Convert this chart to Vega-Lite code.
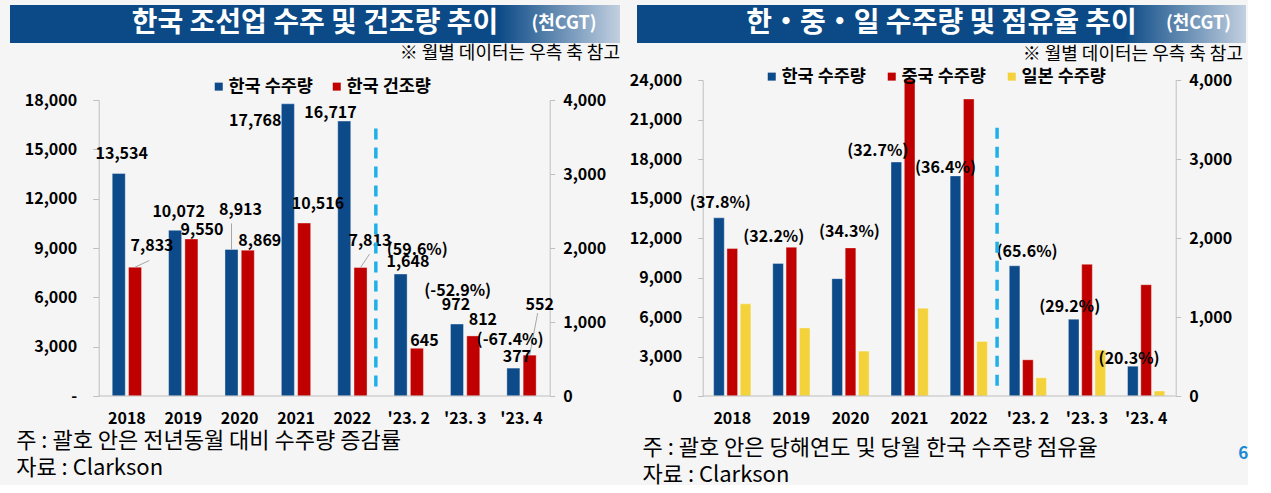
{
  "$schema": "https://vega.github.io/schema/vega-lite/v6.json",
  "description": "한국 조선업 수주 및 건조량 추이 / 한·중·일 수주량 및 점유율 추이 (천CGT)",
  "background": "#f5f5f5",
  "padding": {"left": 10, "top": 5, "right": 0, "bottom": 0},
  "datasets": {
    "korea": [
      {"period": "2018", "kind": "annual", "series": "한국 수주량", "value": 13534},
      {"period": "2018", "kind": "annual", "series": "한국 건조량", "value": 7833},
      {"period": "2019", "kind": "annual", "series": "한국 수주량", "value": 10072},
      {"period": "2019", "kind": "annual", "series": "한국 건조량", "value": 9550},
      {"period": "2020", "kind": "annual", "series": "한국 수주량", "value": 8913},
      {"period": "2020", "kind": "annual", "series": "한국 건조량", "value": 8869},
      {"period": "2021", "kind": "annual", "series": "한국 수주량", "value": 17768},
      {"period": "2021", "kind": "annual", "series": "한국 건조량", "value": 10516},
      {"period": "2022", "kind": "annual", "series": "한국 수주량", "value": 16717},
      {"period": "2022", "kind": "annual", "series": "한국 건조량", "value": 7813},
      {"period": "'23. 2", "kind": "monthly", "series": "한국 수주량", "value": 1648, "chg": "(59.6%)"},
      {"period": "'23. 2", "kind": "monthly", "series": "한국 건조량", "value": 645},
      {"period": "'23. 3", "kind": "monthly", "series": "한국 수주량", "value": 972, "chg": "(-52.9%)"},
      {"period": "'23. 3", "kind": "monthly", "series": "한국 건조량", "value": 812},
      {"period": "'23. 4", "kind": "monthly", "series": "한국 수주량", "value": 377, "chg": "(-67.4%)"},
      {"period": "'23. 4", "kind": "monthly", "series": "한국 건조량", "value": 552}
    ],
    "share": [
      {"period": "2018", "kind": "annual", "series": "한국 수주량", "value": 13534, "share": "(37.8%)"},
      {"period": "2018", "kind": "annual", "series": "중국 수주량", "value": 11200},
      {"period": "2018", "kind": "annual", "series": "일본 수주량", "value": 7000},
      {"period": "2019", "kind": "annual", "series": "한국 수주량", "value": 10072, "share": "(32.2%)"},
      {"period": "2019", "kind": "annual", "series": "중국 수주량", "value": 11300},
      {"period": "2019", "kind": "annual", "series": "일본 수주량", "value": 5170},
      {"period": "2020", "kind": "annual", "series": "한국 수주량", "value": 8913, "share": "(34.3%)"},
      {"period": "2020", "kind": "annual", "series": "중국 수주량", "value": 11250},
      {"period": "2020", "kind": "annual", "series": "일본 수주량", "value": 3410},
      {"period": "2021", "kind": "annual", "series": "한국 수주량", "value": 17768, "share": "(32.7%)"},
      {"period": "2021", "kind": "annual", "series": "중국 수주량", "value": 24000},
      {"period": "2021", "kind": "annual", "series": "일본 수주량", "value": 6670},
      {"period": "2022", "kind": "annual", "series": "한국 수주량", "value": 16717, "share": "(36.4%)"},
      {"period": "2022", "kind": "annual", "series": "중국 수주량", "value": 22560},
      {"period": "2022", "kind": "annual", "series": "일본 수주량", "value": 4140},
      {"period": "'23. 2", "kind": "monthly", "series": "한국 수주량", "value": 1648, "share": "(65.6%)"},
      {"period": "'23. 2", "kind": "monthly", "series": "중국 수주량", "value": 458},
      {"period": "'23. 2", "kind": "monthly", "series": "일본 수주량", "value": 231},
      {"period": "'23. 3", "kind": "monthly", "series": "한국 수주량", "value": 972, "share": "(29.2%)"},
      {"period": "'23. 3", "kind": "monthly", "series": "중국 수주량", "value": 1667},
      {"period": "'23. 3", "kind": "monthly", "series": "일본 수주량", "value": 581},
      {"period": "'23. 4", "kind": "monthly", "series": "한국 수주량", "value": 377, "share": "(20.3%)"},
      {"period": "'23. 4", "kind": "monthly", "series": "중국 수주량", "value": 1409},
      {"period": "'23. 4", "kind": "monthly", "series": "일본 수주량", "value": 63}
    ]
  },
  "spacing": 9,
  "resolve": {
    "scale": {"x": "independent", "y": "independent", "xOffset": "independent", "color": "independent"},
    "legend": {"color": "independent"}
  },
  "hconcat": [
    {
      "spacing": 2,
      "resolve": {
        "scale": {"x": "independent", "y": "independent", "xOffset": "independent", "color": "independent"},
        "legend": {"color": "independent"}
      },
      "vconcat": [
        {
          "width": 610,
          "height": 38,
          "data": {"values": [{"title": "한국 조선업 수주 및 건조량 추이", "unit": "(천CGT)"}]},
          "layer": [
            {
              "mark": {
                "type": "rect",
                "color": {
                  "gradient": "linear", "x1": 0, "x2": 1, "y1": 0, "y2": 0,
                  "stops": [
                    {"offset": 0, "color": "#0b4a86"},
                    {"offset": 0.8, "color": "#0b4a86"},
                    {"offset": 1, "color": "#c2d0e0"}
                  ]
                }
              },
              "encoding": {}
            },
            {
              "mark": {"type": "text", "fontSize": 28, "fontWeight": "bold", "color": "#ffffff"},
              "encoding": {"text": {"field": "title"}}
            },
            {
              "mark": {"type": "text", "fontSize": 18, "fontWeight": "bold", "color": "#ffffff", "dx": 249},
              "encoding": {"text": {"field": "unit"}}
            }
          ]
        },
        {
          "data": {"name": "korea"},
          "width": 610,
          "height": 296,
          "title": {
            "text": "※ 월별 데이터는 우측 축 참고",
            "anchor": "end",
            "frame": "group",
            "offset": 14.5,
            "fontSize": 18,
            "fontWeight": "normal"
          },
          "encoding": {
            "x": {
              "field": "period",
              "type": "nominal",
              "sort": ["2018", "2019", "2020", "2021", "2022", "'23. 2", "'23. 3", "'23. 4"],
              "scale": {"paddingInner": 0.48, "paddingOuter": 0.24, "range": [88.7, 539.7]},
              "axis": {
                "title": ["주 : 괄호 안은 전년동월 대비 수주량 증감률", "자료 : Clarkson"],
                "titleX": 5.7,
                "titleY": 34.5,
                "titleAlign": "left",
                "titleAnchor": "start",
                "titleBaseline": "top",
                "titleFontSize": 22,
                "titleFontWeight": "normal",
                "titleLineHeight": 27,
                "labelAngle": 0,
                "labelPadding": 14,
                "domain": false,
                "ticks": false,
                "tickSize": 0
              }
            }
          },
          "layer": [
            {
              "transform": [{"filter": "datum.kind == 'annual'"}],
              "encoding": {
                "y": {
                  "field": "value",
                  "type": "quantitative",
                  "scale": {"domain": [0, 18000]},
                  "axis": {
                    "orient": "left",
                    "offset": -88.7,
                    "title": null,
                    "values": [0, 3000, 6000, 9000, 12000, 15000, 18000],
                    "labelExpr": "datum.value == 0 ? '-' : format(datum.value, ',.0f')",
                    "tickSize": 6,
                    "labelPadding": 16
                  }
                },
                "xOffset": {"field": "series", "sort": ["한국 수주량", "한국 건조량"], "scale": {"paddingInner": 0.2}},
                "color": {
                  "field": "series",
                  "type": "nominal",
                  "scale": {"domain": ["한국 수주량", "한국 건조량"], "range": ["#0d4a8a", "#c00000"]},
                  "legend": {
                    "orient": "none",
                    "legendX": 200,
                    "legendY": -22.5,
                    "direction": "horizontal",
                    "columns": 2,
                    "title": null,
                    "symbolType": "square",
                    "symbolSize": 64,
                    "symbolStrokeWidth": 0,
                    "labelFontSize": 17.5,
                    "labelFontWeight": "bold",
                    "labelOffset": 1,
                    "columnPadding": 15
                  }
                }
              },
              "layer": [
                {"mark": {"type": "bar", "stroke": "#ffffff", "strokeWidth": 0.6, "strokeOpacity": 0.6}},
                {
                  "transform": [{"filter": "datum.series == '한국 수주량' && datum.period == '2020'"}],
                  "mark": {"type": "rule", "strokeWidth": 1, "y2Offset": -26},
                  "encoding": {"y2": {"field": "value"}, "color": {"value": "#a6a6a6"}}
                },
                {
                  "transform": [{"filter": "datum.series == '한국 건조량' && (datum.period == '2018' || datum.period == '2022')"}],
                  "mark": {
                    "type": "point",
                    "filled": false,
                    "opacity": 1,
                    "strokeWidth": 1,
                    "shape": {"expr": "datum.period == '2018' ? 'M0,0L1,-0.47' : 'M0,0L0.67,-1'"},
                    "size": {"expr": "datum.period == '2018' ? 818 : 718"}
                  },
                  "encoding": {"color": {"value": "#a6a6a6"}}
                },
                {
                  "transform": [{"filter": "datum.series == '한국 수주량'"}],
                  "mark": {
                    "type": "text",
                    "fontSize": 16,
                    "fontWeight": "bold",
                    "baseline": "middle",
                    "dx": {"expr": "[3, 3.5, 9, -32.6, -13.7][indexof(['2018', '2019', '2020', '2021', '2022'], datum.period)]"},
                    "dy": {"expr": "[-19, -18, -39.6, 17.4, -8][indexof(['2018', '2019', '2020', '2021', '2022'], datum.period)]"}
                  },
                  "encoding": {
                    "text": {"field": "value", "type": "quantitative", "format": ",.0f"},
                    "color": {"value": "#000000"}
                  }
                },
                {
                  "transform": [{"filter": "datum.series == '한국 건조량'"}],
                  "mark": {
                    "type": "text",
                    "fontSize": 16,
                    "fontWeight": "bold",
                    "baseline": "middle",
                    "dx": {"expr": "[17, 10.6, 12, 13.8, 9.4][indexof(['2018', '2019', '2020', '2021', '2022'], datum.period)]"},
                    "dy": {"expr": "[-20.7, -8.5, -9, -19.3, -26.3][indexof(['2018', '2019', '2020', '2021', '2022'], datum.period)]"}
                  },
                  "encoding": {
                    "text": {"field": "value", "type": "quantitative", "format": ",.0f"},
                    "color": {"value": "#000000"}
                  }
                }
              ]
            },
            {
              "transform": [{"filter": "datum.kind == 'monthly'"}],
              "encoding": {
                "y": {
                  "field": "value",
                  "type": "quantitative",
                  "scale": {"domain": [0, 4000]},
                  "axis": {
                    "orient": "right",
                    "offset": -70.3,
                    "title": null,
                    "values": [0, 1000, 2000, 3000, 4000],
                    "format": ",.0f",
                    "tickSize": 5,
                    "labelPadding": 8
                  }
                },
                "xOffset": {"field": "series", "sort": ["한국 수주량", "한국 건조량"], "scale": {"paddingInner": 0.2}},
                "color": {
                  "field": "series",
                  "type": "nominal",
                  "scale": {"domain": ["한국 수주량", "한국 건조량"], "range": ["#0d4a8a", "#c00000"]}
                }
              },
              "layer": [
                {"mark": {"type": "bar", "stroke": "#ffffff", "strokeWidth": 0.6, "strokeOpacity": 0.6}},
                {
                  "transform": [{"filter": "datum.series == '한국 건조량' && datum.period == \"'23. 4\""}],
                  "mark": {
                    "type": "point",
                    "filled": false,
                    "opacity": 1,
                    "strokeWidth": 1,
                    "shape": "M0,0L0.19,-1",
                    "size": 7056
                  },
                  "encoding": {"color": {"value": "#a6a6a6"}}
                },
                {
                  "transform": [{"filter": "datum.series == '한국 수주량'"}],
                  "mark": {
                    "type": "text",
                    "fontSize": 16,
                    "fontWeight": "bold",
                    "baseline": "middle",
                    "dx": {"expr": "datum.period == \"'23. 2\" ? 7.3 : datum.period == \"'23. 3\" ? -1 : 3.5"},
                    "dy": {"expr": "datum.period == \"'23. 2\" ? -11.8 : datum.period == \"'23. 3\" ? -18.6 : -11.6"}
                  },
                  "encoding": {
                    "text": {"field": "value", "type": "quantitative", "format": ",.0f"},
                    "color": {"value": "#000000"}
                  }
                },
                {
                  "transform": [{"filter": "datum.series == '한국 수주량'"}],
                  "mark": {
                    "type": "text",
                    "fontSize": 16,
                    "fontWeight": "bold",
                    "baseline": "middle",
                    "dx": {"expr": "datum.period == \"'23. 2\" ? 16.7 : datum.period == \"'23. 3\" ? 0.7 : -3.3"},
                    "dy": {"expr": "datum.period == \"'23. 2\" ? -24.2 : datum.period == \"'23. 3\" ? -33 : -28.3"}
                  },
                  "encoding": {
                    "text": {"field": "chg", "type": "nominal"},
                    "color": {"value": "#000000"}
                  }
                },
                {
                  "transform": [{"filter": "datum.series == '한국 건조량'"}],
                  "mark": {
                    "type": "text",
                    "fontSize": 16,
                    "fontWeight": "bold",
                    "baseline": "middle",
                    "dx": {"expr": "datum.period == \"'23. 2\" ? 7.5 : datum.period == \"'23. 3\" ? 9.6 : 10"},
                    "dy": {"expr": "datum.period == \"'23. 2\" ? -6.8 : datum.period == \"'23. 3\" ? -16.4 : -49.7"}
                  },
                  "encoding": {
                    "text": {"field": "value", "type": "quantitative", "format": ",.0f"},
                    "color": {"value": "#000000"}
                  }
                }
              ]
            },
            {
              "transform": [{"aggregate": [{"op": "count", "as": "n"}]}],
              "mark": {"type": "rule", "color": "#1fb0ea", "strokeWidth": 3.5, "strokeDash": [11, 8]},
              "encoding": {
                "x": {"datum": "2022", "bandPosition": 1.3},
                "y": {"datum": 16270, "type": "quantitative", "scale": {"domain": [0, 18000]}, "axis": null},
                "y2": {"datum": 280}
              }
            },
            {
              "transform": [{"aggregate": [{"op": "count", "as": "n"}]}],
              "mark": {"type": "rule", "color": "#bfbfbf", "strokeWidth": 1},
              "encoding": {
                "x": {"datum": "2018", "bandPosition": -0.4615},
                "x2": {"datum": "'23. 4", "bandPosition": 1.4615},
                "y": {"datum": 0, "type": "quantitative", "scale": {"domain": [0, 18000]}, "axis": null}
              }
            }
          ],
          "resolve": {"scale": {"y": "independent"}}
        }
      ]
    },
    {
      "spacing": 2,
      "resolve": {
        "scale": {"x": "independent", "y": "independent", "xOffset": "independent", "color": "independent"},
        "legend": {"color": "independent"}
      },
      "vconcat": [
        {
          "width": 609,
          "height": 38,
          "data": {"values": [{"title": "한・중・일 수주량 및 점유율 추이", "unit": "(천CGT)"}]},
          "layer": [
            {
              "mark": {
                "type": "rect",
                "color": {
                  "gradient": "linear", "x1": 0, "x2": 1, "y1": 0, "y2": 0,
                  "stops": [
                    {"offset": 0, "color": "#0b4a86"},
                    {"offset": 0.8, "color": "#0b4a86"},
                    {"offset": 1, "color": "#c2d0e0"}
                  ]
                }
              },
              "encoding": {}
            },
            {
              "mark": {"type": "text", "fontSize": 28, "fontWeight": "bold", "color": "#ffffff"},
              "encoding": {"text": {"field": "title"}}
            },
            {
              "mark": {"type": "text", "fontSize": 18, "fontWeight": "bold", "color": "#ffffff", "dx": 257},
              "encoding": {"text": {"field": "unit"}}
            }
          ]
        },
        {
          "data": {"name": "share"},
          "width": 609,
          "height": 316,
          "title": {
            "text": "※ 월별 데이터는 우측 축 참고",
            "anchor": "end",
            "frame": "group",
            "dx": -3,
            "offset": 4,
            "fontSize": 18,
            "fontWeight": "normal"
          },
          "encoding": {
            "x": {
              "field": "period",
              "type": "nominal",
              "sort": ["2018", "2019", "2020", "2021", "2022", "'23. 2", "'23. 3", "'23. 4"],
              "scale": {"paddingInner": 0.37, "paddingOuter": 0.185, "range": [65.7, 538.7]},
              "axis": {
                "title": ["주 : 괄호 안은 당해연도 및 당월 한국 수주량 점유율", "자료 : Clarkson"],
                "titleX": 5,
                "titleY": 41.5,
                "titleAlign": "left",
                "titleAnchor": "start",
                "titleBaseline": "top",
                "titleFontSize": 22,
                "titleFontWeight": "normal",
                "titleLineHeight": 26.5,
                "labelAngle": 0,
                "labelPadding": 14,
                "domain": false,
                "ticks": false,
                "tickSize": 0
              }
            }
          },
          "layer": [
            {
              "transform": [{"filter": "datum.kind == 'annual'"}],
              "encoding": {
                "y": {
                  "field": "value",
                  "type": "quantitative",
                  "scale": {"domain": [0, 24000]},
                  "axis": {
                    "orient": "left",
                    "offset": -65.7,
                    "title": null,
                    "values": [0, 3000, 6000, 9000, 12000, 15000, 18000, 21000, 24000],
                    "format": ",.0f",
                    "tickSize": 5,
                    "labelPadding": 16
                  }
                },
                "xOffset": {"field": "series", "sort": ["한국 수주량", "중국 수주량", "일본 수주량"], "scale": {"paddingInner": 0.2}},
                "color": {
                  "field": "series",
                  "type": "nominal",
                  "scale": {"domain": ["한국 수주량", "중국 수주량", "일본 수주량"], "range": ["#0d4a8a", "#c00000", "#f3d23b"]},
                  "legend": {
                    "orient": "none",
                    "legendX": 126,
                    "legendY": -12.5,
                    "direction": "horizontal",
                    "columns": 3,
                    "title": null,
                    "symbolType": "square",
                    "symbolSize": 64,
                    "symbolStrokeWidth": 0,
                    "labelFontSize": 17.5,
                    "labelFontWeight": "bold",
                    "labelOffset": 1,
                    "columnPadding": 17
                  }
                }
              },
              "layer": [
                {"mark": {"type": "bar", "stroke": "#ffffff", "strokeWidth": 0.6, "strokeOpacity": 0.6}},
                {
                  "transform": [{"filter": "datum.series == '한국 수주량'"}],
                  "mark": {
                    "type": "text",
                    "fontSize": 16,
                    "fontWeight": "bold",
                    "baseline": "middle",
                    "dx": {"expr": "[1.4, -4.3, 12.2, -18.5, -10][indexof(['2018', '2019', '2020', '2021', '2022'], datum.period)]"},
                    "dy": {"expr": "[-15.3, -26.7, -46.3, -11.2, -8.3][indexof(['2018', '2019', '2020', '2021', '2022'], datum.period)]"}
                  },
                  "encoding": {
                    "text": {"field": "share", "type": "nominal"},
                    "color": {"value": "#000000"}
                  }
                }
              ]
            },
            {
              "transform": [{"filter": "datum.kind == 'monthly'"}],
              "encoding": {
                "y": {
                  "field": "value",
                  "type": "quantitative",
                  "scale": {"domain": [0, 4000]},
                  "axis": {
                    "orient": "right",
                    "offset": -70.3,
                    "title": "6",
                    "titleAngle": 0,
                    "titleX": 67,
                    "titleY": 373,
                    "titleAlign": "center",
                    "titleBaseline": "middle",
                    "titleColor": "#1a8ad4",
                    "titleFontSize": 17,
                    "titleFontWeight": "bold",
                    "values": [0, 1000, 2000, 3000, 4000],
                    "format": ",.0f",
                    "tickSize": 5,
                    "labelPadding": 8
                  }
                },
                "xOffset": {"field": "series", "sort": ["한국 수주량", "중국 수주량", "일본 수주량"], "scale": {"paddingInner": 0.2}},
                "color": {
                  "field": "series",
                  "type": "nominal",
                  "scale": {"domain": ["한국 수주량", "중국 수주량", "일본 수주량"], "range": ["#0d4a8a", "#c00000", "#f3d23b"]}
                }
              },
              "layer": [
                {"mark": {"type": "bar", "stroke": "#ffffff", "strokeWidth": 0.6, "strokeOpacity": 0.6}},
                {
                  "transform": [{"filter": "datum.series == '한국 수주량'"}],
                  "mark": {
                    "type": "text",
                    "fontSize": 16,
                    "fontWeight": "bold",
                    "baseline": "middle",
                    "dx": {"expr": "datum.period == \"'23. 2\" ? 12.5 : datum.period == \"'23. 3\" ? -4 : -3.7"},
                    "dy": {"expr": "datum.period == \"'23. 2\" ? -13.4 : datum.period == \"'23. 3\" ? -12.6 : -7.4"}
                  },
                  "encoding": {
                    "text": {"field": "share", "type": "nominal"},
                    "color": {"value": "#000000"}
                  }
                }
              ]
            },
            {
              "transform": [{"aggregate": [{"op": "count", "as": "n"}]}],
              "mark": {"type": "rule", "color": "#1fb0ea", "strokeWidth": 3.5, "strokeDash": [11, 8]},
              "encoding": {
                "x": {"datum": "2022", "bandPosition": 1.26},
                "y": {"datum": 20380, "type": "quantitative", "scale": {"domain": [0, 24000]}, "axis": null},
                "y2": {"datum": 570}
              }
            },
            {
              "transform": [{"aggregate": [{"op": "count", "as": "n"}]}],
              "mark": {"type": "rule", "color": "#bfbfbf", "strokeWidth": 1},
              "encoding": {
                "x": {"datum": "2018", "bandPosition": -0.2937},
                "x2": {"datum": "'23. 4", "bandPosition": 1.2937},
                "y": {"datum": 0, "type": "quantitative", "scale": {"domain": [0, 24000]}, "axis": null}
              }
            }
          ],
          "resolve": {"scale": {"y": "independent"}}
        }
      ]
    }
  ],
  "config": {
    "font": "Noto Sans CJK KR",
    "view": {"stroke": null},
    "axis": {
      "grid": false,
      "labelColor": "#000000",
      "labelFontSize": 16,
      "labelFontWeight": "bold",
      "domainColor": "#bfbfbf",
      "tickColor": "#bfbfbf",
      "titleColor": "#000000"
    },
    "legend": {"labelColor": "#000000"},
    "title": {"color": "#000000"}
  }
}
